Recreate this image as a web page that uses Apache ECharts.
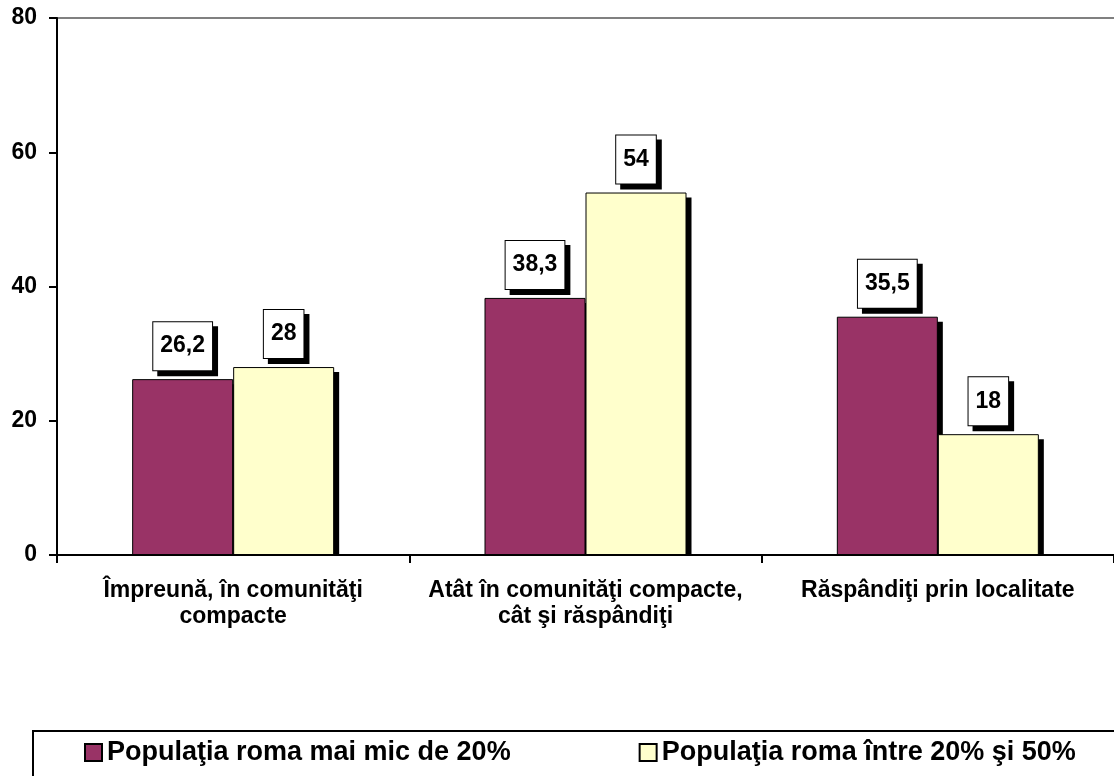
<!DOCTYPE html>
<html>
<head>
<meta charset="utf-8">
<script src="https://cdn.jsdelivr.net/npm/echarts@6/dist/echarts.min.js"></script>
<style>
html,body{margin:0;padding:0;background:#fff;}
#c{width:1114px;height:776px;}
</style>
</head>
<body>
<div id="c"></div>
<script>
var categories = ['Împreună, în comunităţi\ncompacte', 'Atât în comunităţi compacte,\ncât şi răspândiţi', 'Răspândiţi prin localitate'];
var seriesNames = ['Populaţia roma mai mic de 20%', 'Populaţia roma între 20% şi 50%'];
var valuesLow = [26.2, 38.3, 35.5];
var valuesMid = [28, 54, 18];
var seriesColors = ['#993366', '#FFFFCC'];

var FONT = '"Liberation Sans", Arial, sans-serif';
var BAR_W = 101;
var SH = 5;

var chart = echarts.init(document.getElementById('c'), null, {renderer: 'canvas'});

function labelCfg() {
  return {
    show: true,
    position: 'top',
    distance: 9,
    formatter: function (p) { return String(p.value).replace('.', ','); },
    fontFamily: FONT,
    fontWeight: 'bold',
    fontSize: 23,
    color: '#000',
    lineHeight: 24,
    backgroundColor: '#fff',
    borderColor: '#000',
    borderWidth: 1,
    padding: [12, 7, 12, 7],
    shadowColor: '#000',
    shadowBlur: 0,
    shadowOffsetX: 5,
    shadowOffsetY: 5
  };
}

function barSeries(name, data, color) {
  return {
    name: name,
    type: 'bar',
    data: data,
    barWidth: BAR_W,
    barGap: '0%',
    z: 3,
    itemStyle: {color: color, borderColor: '#000', borderWidth: 1},
    label: labelCfg(),
    emphasis: {disabled: true},
    animation: false
  };
}

function shadowSeries(values, side) {
  return {
    name: 'shadow' + side,
    type: 'custom',
    z: 1,
    silent: true,
    animation: false,
    data: values.map(function (v, i) { return [i, v]; }),
    encode: {x: 0, y: 1},
    renderItem: function (params, api) {
      var top = api.coord([api.value(0), api.value(1)]);
      var base = api.coord([api.value(0), 0]);
      var x = side === 0 ? top[0] - BAR_W : top[0];
      return {
        type: 'rect',
        shape: {x: x + SH, y: top[1] + SH, width: BAR_W, height: base[1] - top[1] - SH},
        style: {fill: '#000'}
      };
    }
  };
}

chart.setOption({
  animation: false,
  backgroundColor: '#fff',
  grid: {left: 57, top: 18, width: 1062, height: 537, containLabel: false},
  xAxis: [{
    type: 'category',
    data: categories,
    position: 'bottom',
    z: 5,
    axisLine: {lineStyle: {color: '#000', width: 2}},
    axisTick: {show: true, alignWithLabel: false, length: 8, lineStyle: {color: '#000', width: 2}},
    axisLabel: {
      interval: 0,
      margin: 23,
      fontFamily: FONT,
      fontWeight: 'bold',
      fontSize: 23,
      lineHeight: 26,
      color: '#000',
      align: 'center'
    }
  }, {
    type: 'category',
    data: categories,
    position: 'top',
    axisLine: {lineStyle: {color: '#808080', width: 2}},
    axisTick: {show: false},
    axisLabel: {show: false}
  }],
  yAxis: {
    type: 'value',
    min: 0,
    max: 80,
    interval: 20,
    z: 5,
    axisLine: {show: true, lineStyle: {color: '#000', width: 2}},
    axisTick: {show: true, length: 8, lineStyle: {color: '#000', width: 2}},
    splitLine: {show: false},
    axisLabel: {
      margin: 20,
      fontFamily: FONT,
      fontWeight: 'bold',
      fontSize: 23,
      color: '#000'
    }
  },
  legend: {
    left: 84,
    top: 739,
    padding: 0,
    itemWidth: 17,
    itemHeight: 17,
    itemGap: 128,
    icon: 'rect',
    itemStyle: {borderColor: '#000', borderWidth: 2},
    textStyle: {fontFamily: FONT, fontWeight: 'bold', fontSize: 27, color: '#000'},
    selectedMode: false,
    data: seriesNames
  },
  graphic: [{
    type: 'rect',
    left: 32,
    top: 730,
    shape: {x: 0, y: 0, width: 1100, height: 60},
    style: {fill: 'transparent', stroke: '#000', lineWidth: 2},
    z: -1
  }],
  series: [
    shadowSeries(valuesLow, 0),
    shadowSeries(valuesMid, 1),
    barSeries(seriesNames[0], valuesLow, seriesColors[0]),
    barSeries(seriesNames[1], valuesMid, seriesColors[1])
  ]
});
</script>
</body>
</html>
